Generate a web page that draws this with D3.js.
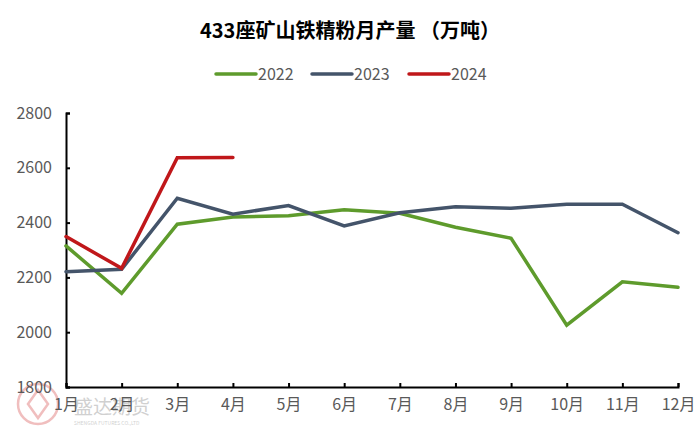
<!DOCTYPE html>
<html><head><meta charset="utf-8">
<script src="https://cdn.jsdelivr.net/npm/d3@7"></script>
<style>body{margin:0;background:#fff;}svg{display:block;font-family:"Noto Sans CJK SC","Noto Sans",sans-serif;}</style>
</head><body><svg id="c" width="700" height="437"></svg>
<script>
const months = ["1月","2月","3月","4月","5月","6月","7月","8月","9月","10月","11月","12月"];
const yTicks = [1800,2000,2200,2400,2600,2800];
const seriesNames = ["2022","2023","2024"];
const seriesColors = ["#5e9b2c","#44546a","#c0171a"];
const v2022 = [2315,2142,2394,2420,2425,2447,2434,2383,2343,2026,2184,2164];
const v2023 = [2221,2230,2489,2431,2462,2388,2436,2458,2452,2467,2467,2363];
const v2024 = [2349,2233,2637,2638];
const allValues = [v2022,v2023,v2024];

const svg = d3.select("#c");
const x = d3.scalePoint().domain(months).range([66,678]);
const y = d3.scaleLinear().domain([1800,2800]).range([387,113]);
const textCol = "#595959";

// title
svg.append("text").attr("x",350).attr("y",38).attr("text-anchor","middle")
  .attr("font-size",20).attr("font-weight","bold").attr("fill","#000")
  .text("433座矿山铁精粉月产量 （万吨）");

// legend
const legX = [216,312,409];
seriesNames.forEach((n,i)=>{
  const g = svg.append("g");
  g.append("line").attr("x1",legX[i]).attr("x2",legX[i]+40).attr("y1",74).attr("y2",74)
    .attr("stroke",seriesColors[i]).attr("stroke-width",3.5).attr("stroke-linecap","round");
  g.append("text").attr("x",legX[i]+42).attr("y",80).attr("font-size",16).attr("fill",textCol).text(n);
});

// watermark
const wm = svg.append("g").attr("opacity",0.45);
wm.append("circle").attr("cx",38).attr("cy",404).attr("r",20).attr("fill","none").attr("stroke","#e07070").attr("stroke-width",2.5);
wm.append("path").attr("d","M28,404 L38,390 L48,404 L38,418 Z").attr("fill","none").attr("stroke","#e07070").attr("stroke-width",2.5);
wm.append("text").attr("x",74).attr("y",414).attr("font-size",19).attr("fill","#999").text("盛达期货");
wm.append("text").attr("x",74).attr("y",425).attr("font-size",5).attr("fill","#999").text("SHENGDA FUTURES CO.,LTD");

// axes
const yAxis = d3.axisLeft(y).tickValues(yTicks).tickSize(-4).tickPadding(14).tickFormat(d3.format("d"));
const gy = svg.append("g").attr("transform","translate(66,0)").call(yAxis);
gy.select(".domain").attr("stroke","#000").attr("stroke-width",2);
gy.selectAll(".tick line").attr("stroke","#000").attr("stroke-width",2);
gy.selectAll(".tick text").attr("font-size",16).attr("fill",textCol).attr("font-family","Noto Sans CJK SC");

const xAxis = d3.axisBottom(x).tickSize(-4).tickPadding(12);
const gx = svg.append("g").attr("transform","translate(0,387)").call(xAxis);
gx.select(".domain").attr("stroke","#000").attr("stroke-width",2);
gx.selectAll(".tick line").attr("stroke","#000").attr("stroke-width",2);
gx.selectAll(".tick text").attr("font-size",16).attr("fill",textCol).attr("font-family","Noto Sans CJK SC");

// lines
const line = d3.line().x((d,i)=>x(months[i])).y(d=>y(d));
allValues.forEach((vals,i)=>{
  svg.append("path").datum(vals).attr("d",line).attr("fill","none")
    .attr("stroke",seriesColors[i]).attr("stroke-width",3.5)
    .attr("stroke-linejoin","miter").attr("stroke-linecap","round");
});
</script></body></html>
